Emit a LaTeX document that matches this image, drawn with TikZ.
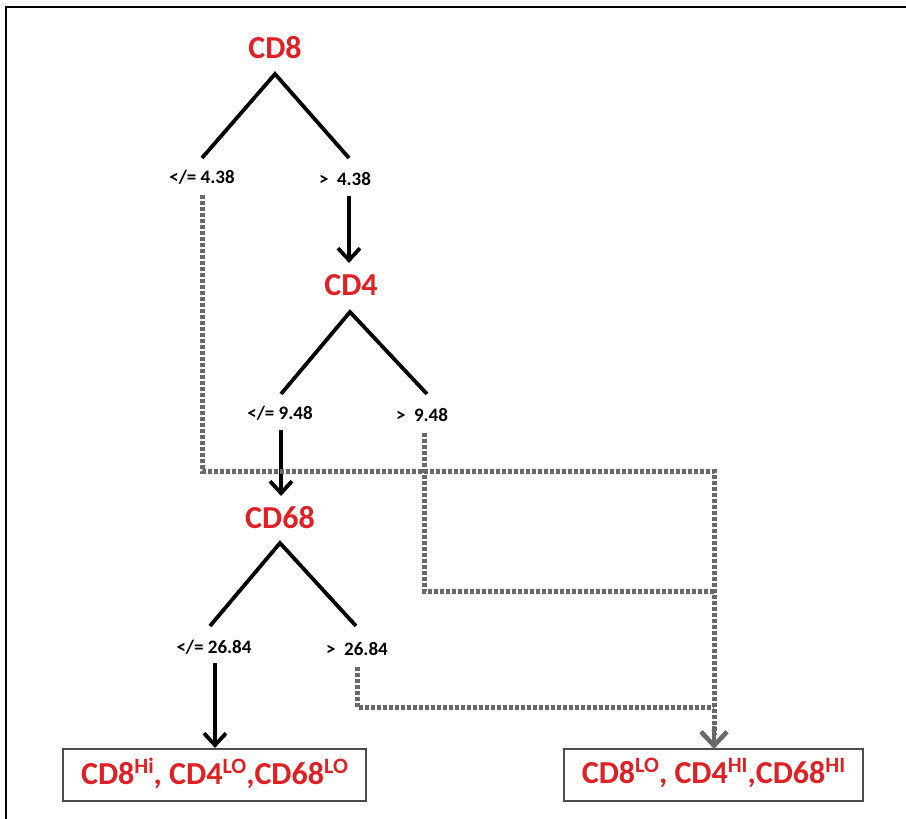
\documentclass[tikz,border=0pt]{standalone}
\usepackage{fontspec}
\setmainfont{Carlito}
\usetikzlibrary{arrows.meta}
\definecolor{labred}{RGB}{224,32,36}
\definecolor{pathgray}{RGB}{105,105,105}
% raised level tag inside the outcome boxes
\newcommand{\lvl}[1]{\raisebox{11pt}{\fontsize{22}{22}\selectfont #1}}

\begin{document}
\begin{tikzpicture}[x=1pt,y=-1pt,
  marker/.style={text=labred,font=\bfseries\fontsize{32}{36}\selectfont,inner sep=0pt},
  cut/.style={font=\bfseries\fontsize{19}{21}\selectfont,inner sep=0pt},
  outcome/.style={text=labred,font=\bfseries\fontsize{32}{35}\selectfont,inner sep=0pt},
  framebox/.style={draw=black!70,line width=1.2pt},
  branch/.style={line width=3.8pt},
  gostep/.style={line width=3.8pt,-{Straight Barb[length=12pt,width=22pt]}},
  altpath/.style={pathgray,line width=5pt,dash pattern=on 4pt off 2pt},
  alttip/.style={pathgray,line width=4.5pt,-{Straight Barb[length=14pt,width=26pt]}},
]
\useasboundingbox (0,0) rectangle (906,819);
% frame
\draw[line width=2pt] (6,819) -- (6,7) -- (906,7);

% markers and cut-off labels
\node[marker] (cd8)  at (275,48)  {CD8};
\node[cut]    (c8le) at (202,177) {</= 4.38};
\node[cut]    (c8gt) at (345,179) {>\hspace{0.45em}4.38};

\node[marker] (cd4)  at (351,285) {CD4};
\node[cut]    (c4le) at (280,413) {</= 9.48};
\node[cut]    (c4gt) at (422,415) {>\hspace{0.45em}9.48};

\node[marker] (cd68)  at (280,518) {CD68};
\node[cut]    (c68le) at (214,647) {</= 26.84};
\node[cut]    (c68gt) at (357,649) {>\hspace{0.45em}26.84};

% outcome boxes
\draw[framebox] (63,749) rectangle (366,801);
\node[outcome] (lowbox)  at (214.5,773) {CD8\lvl{Hi}, CD4\lvl{LO},CD68\lvl{LO}};
\draw[framebox] (564,749) rectangle (863,801);
\node[outcome] (highbox) at (713.5,773) {CD8\lvl{LO}, CD4\lvl{HI},CD68\lvl{HI}};

% split points of each marker
\coordinate (t8)  at (275,74);
\coordinate (t8l) at (202,158);
\coordinate (t8r) at (349,158);
\coordinate (t4)  at (350,312);
\coordinate (t4l) at (281,394);
\coordinate (t4r) at (427,394);
\coordinate (t68)  at (280,543);
\coordinate (t68l) at (210,626);
\coordinate (t68r) at (356,626);

\draw[branch] (t8l) -- (t8) -- (t8r);
\draw[branch] (t4l) -- (t4) -- (t4r);
\draw[branch] (t68l) -- (t68) -- (t68r);

% solid steps down the tree
\coordinate (s8)  at (349,196);
\coordinate (e8)  at (349,263);
\coordinate (s4)  at (281,430);
\coordinate (e4)  at (281,496);
\coordinate (s68) at (215,663);
\coordinate (e68) at (215,748);
\draw[gostep] (s8) -- (e8);
\draw[gostep] (s4) -- (e4);
\draw[gostep] (s68) -- (e68);

% dotted routes to the high outcome
\coordinate (d8)  at (202,195);
\coordinate (d4)  at (424,433);
\coordinate (d68) at (357,667);
\coordinate (join) at (714,471);
\coordinate (tip)  at (714,749);
\draw[altpath] (d8) |- (join) -- (714,735);
\draw[altpath] (d4) |- (714,591);
\draw[altpath] (d68) |- (714,707);
\draw[alttip] (714,726) -- (tip);
\end{tikzpicture}
\end{document}
